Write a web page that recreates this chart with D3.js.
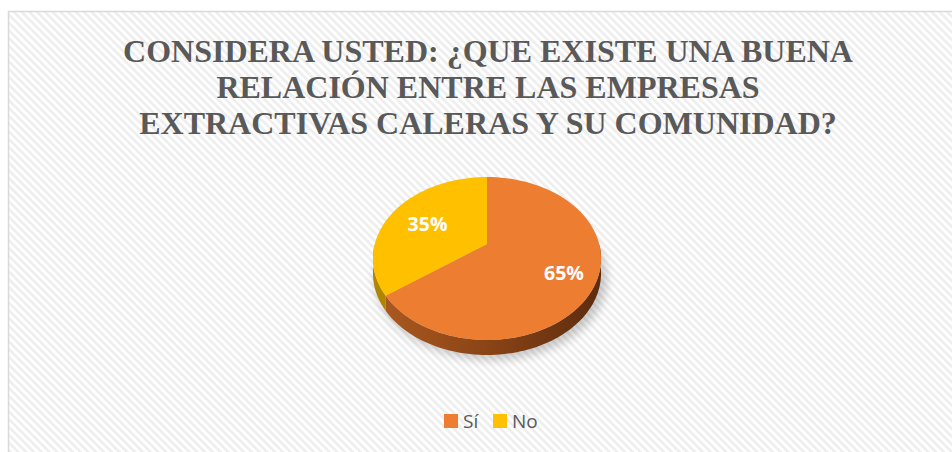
<!DOCTYPE html>
<html>
<head>
  <meta charset="utf-8">
  <style>
    body { margin: 0; padding: 0; background: #fff; }
    svg { display: block; }
  </style>
</head>
<body>
  <div id="chart"></div>
  <script src="https://d3js.org/d3.v7.min.js"></script>
  <script>
    // chart data
    var titleLines = ["CONSIDERA USTED: ¿QUE EXISTE UNA BUENA", "RELACIÓN ENTRE LAS EMPRESAS", "EXTRACTIVAS CALERAS Y SU COMUNIDAD?"]
    var categories = ["Sí", "No"]
    var values = [65, 35]
    var labels = ["65%", "35%"]
    var topColors = ["#ed7d31", "#ffc000"]
    var sideColors = [["#ad5a20", "#8a4416", "#5c2c0e"], ["#b38600", "#9a7400", "#7a5c00"]]

    var width = 952,
      height = 452

    var svg = d3.select("#chart").append("svg")
      .attr("width", width)
      .attr("height", height)

    var defs = svg.append("defs")

    // diagonal hatch background
    var pattern = defs.append("pattern")
      .attr("id", "hatch")
      .attr("patternUnits", "userSpaceOnUse")
      .attr("width", 5.5)
      .attr("height", 5.5)
      .attr("patternTransform", "rotate(-45)")
    pattern.append("rect").attr("width", 5.5).attr("height", 5.5).attr("fill", "#ffffff")
    pattern.append("rect").attr("width", 2.6).attr("height", 5.5).attr("fill", "#eeeeee")

    var blur = defs.append("filter").attr("id", "shadow")
      .attr("x", "-20%").attr("y", "-20%").attr("width", "140%").attr("height", "140%")
    blur.append("feGaussianBlur").attr("stdDeviation", 5)

    svg.append("rect")
      .attr("x", 8.5).attr("y", 11.5)
      .attr("width", 960).attr("height", 460)
      .attr("fill", "url(#hatch)")
      .attr("stroke", "#d9d9d9")
      .attr("stroke-width", 1.5)

    // title
    svg.append("g").selectAll("text")
      .data(titleLines)
      .enter().append("text")
      .attr("x", 488)
      .attr("y", function(d, i) { return 62 + i * 36 })
      .attr("text-anchor", "middle")
      .attr("font-family", "'Liberation Serif', 'Times New Roman', 'DejaVu Serif', serif")
      .attr("font-weight", "bold")
      .attr("font-size", "32px")
      .attr("fill", "#595959")
      .text(function(d) { return d })

    // 3d pie, drawn with a small perspective: the far half looks shorter
    var x0 = 487, y0 = 244, C = 112.2, B = 78.9, p = 0.178, depth = 15

    var pie = d3.pie().sort(null).startAngle(0).endAngle(2 * Math.PI)
    var slices = pie(values)

    // point on the disc at angle a (clockwise from top), radius r (0..1)
    function pt(a, r, dy) {
      var k = 1 + p * r * Math.cos(a)
      return [x0 + C * r * Math.sin(a) / k, y0 - B * r * Math.cos(a) / k + (dy || 0)]
    }

    function rim(a0, a1, dy) {
      var pts = []
      for (var k = 0; k <= 80; k++) pts.push(pt(a0 + (a1 - a0) * k / 80, 1, dy))
      return pts
    }

    // soft shadow under the pie
    svg.append("ellipse")
      .attr("cx", x0 + 4).attr("cy", 258 + depth + 6)
      .attr("rx", 116).attr("ry", 81)
      .attr("fill", "#000")
      .attr("opacity", 0.2)
      .attr("filter", "url(#shadow)")

    var line = d3.line()

    // side walls, front half only
    slices.forEach(function(s, i) {
      var a0 = Math.max(s.startAngle, Math.PI / 2),
        a1 = Math.min(s.endAngle, 3 * Math.PI / 2)
      if (a1 <= a0) return
      var top = rim(a0, a1, 0),
        bottom = rim(a0, a1, depth).reverse()
      var grad = defs.append("linearGradient")
        .attr("id", "side" + i)
        .attr("gradientUnits", "userSpaceOnUse")
        .attr("x1", x0 - 114).attr("x2", x0 + 114)
        .attr("y1", 0).attr("y2", 0)
      grad.append("stop").attr("offset", "0%").attr("stop-color", sideColors[i][0])
      grad.append("stop").attr("offset", "50%").attr("stop-color", sideColors[i][1])
      grad.append("stop").attr("offset", "100%").attr("stop-color", sideColors[i][2])
      svg.append("path")
        .attr("d", line(top.concat(bottom)) + "Z")
        .attr("fill", "url(#side" + i + ")")
    })

    // top faces
    svg.append("g").selectAll("path")
      .data(slices)
      .enter().append("path")
      .attr("d", function(d) {
        return line([pt(0, 0)].concat(rim(d.startAngle, d.endAngle, 0))) + "Z"
      })
      .attr("fill", function(d, i) { return topColors[i] })

    // value labels
    svg.append("g").selectAll("text")
      .data(slices)
      .enter().append("text")
      .attr("transform", function(d) {
        var c = pt((d.startAngle + d.endAngle) / 2, 0.68)
        return "translate(" + (c[0] + 5) + "," + (c[1] + 10) + ")"
      })
      .attr("text-anchor", "middle")
      .attr("font-family", "'Open Sans', sans-serif")
      .attr("font-weight", "bold")
      .attr("font-size", "19.5px")
      .attr("fill", "#fff")
      .text(function(d, i) { return labels[i] })

    // legend
    var legendX = [444, 493]
    var legend = svg.append("g")
      .selectAll("g")
      .data(categories)
      .enter().append("g")
      .attr("transform", function(d, i) { return "translate(" + legendX[i] + ",414)" })
    legend.append("rect")
      .attr("width", 14).attr("height", 14)
      .attr("fill", function(d, i) { return topColors[i] })
    legend.append("text")
      .attr("x", 19)
      .attr("y", 14)
      .attr("font-family", "'Open Sans', sans-serif")
      .attr("font-size", "19px")
      .attr("fill", "#595959")
      .text(function(d) { return d })
  </script>
</body>
</html>
